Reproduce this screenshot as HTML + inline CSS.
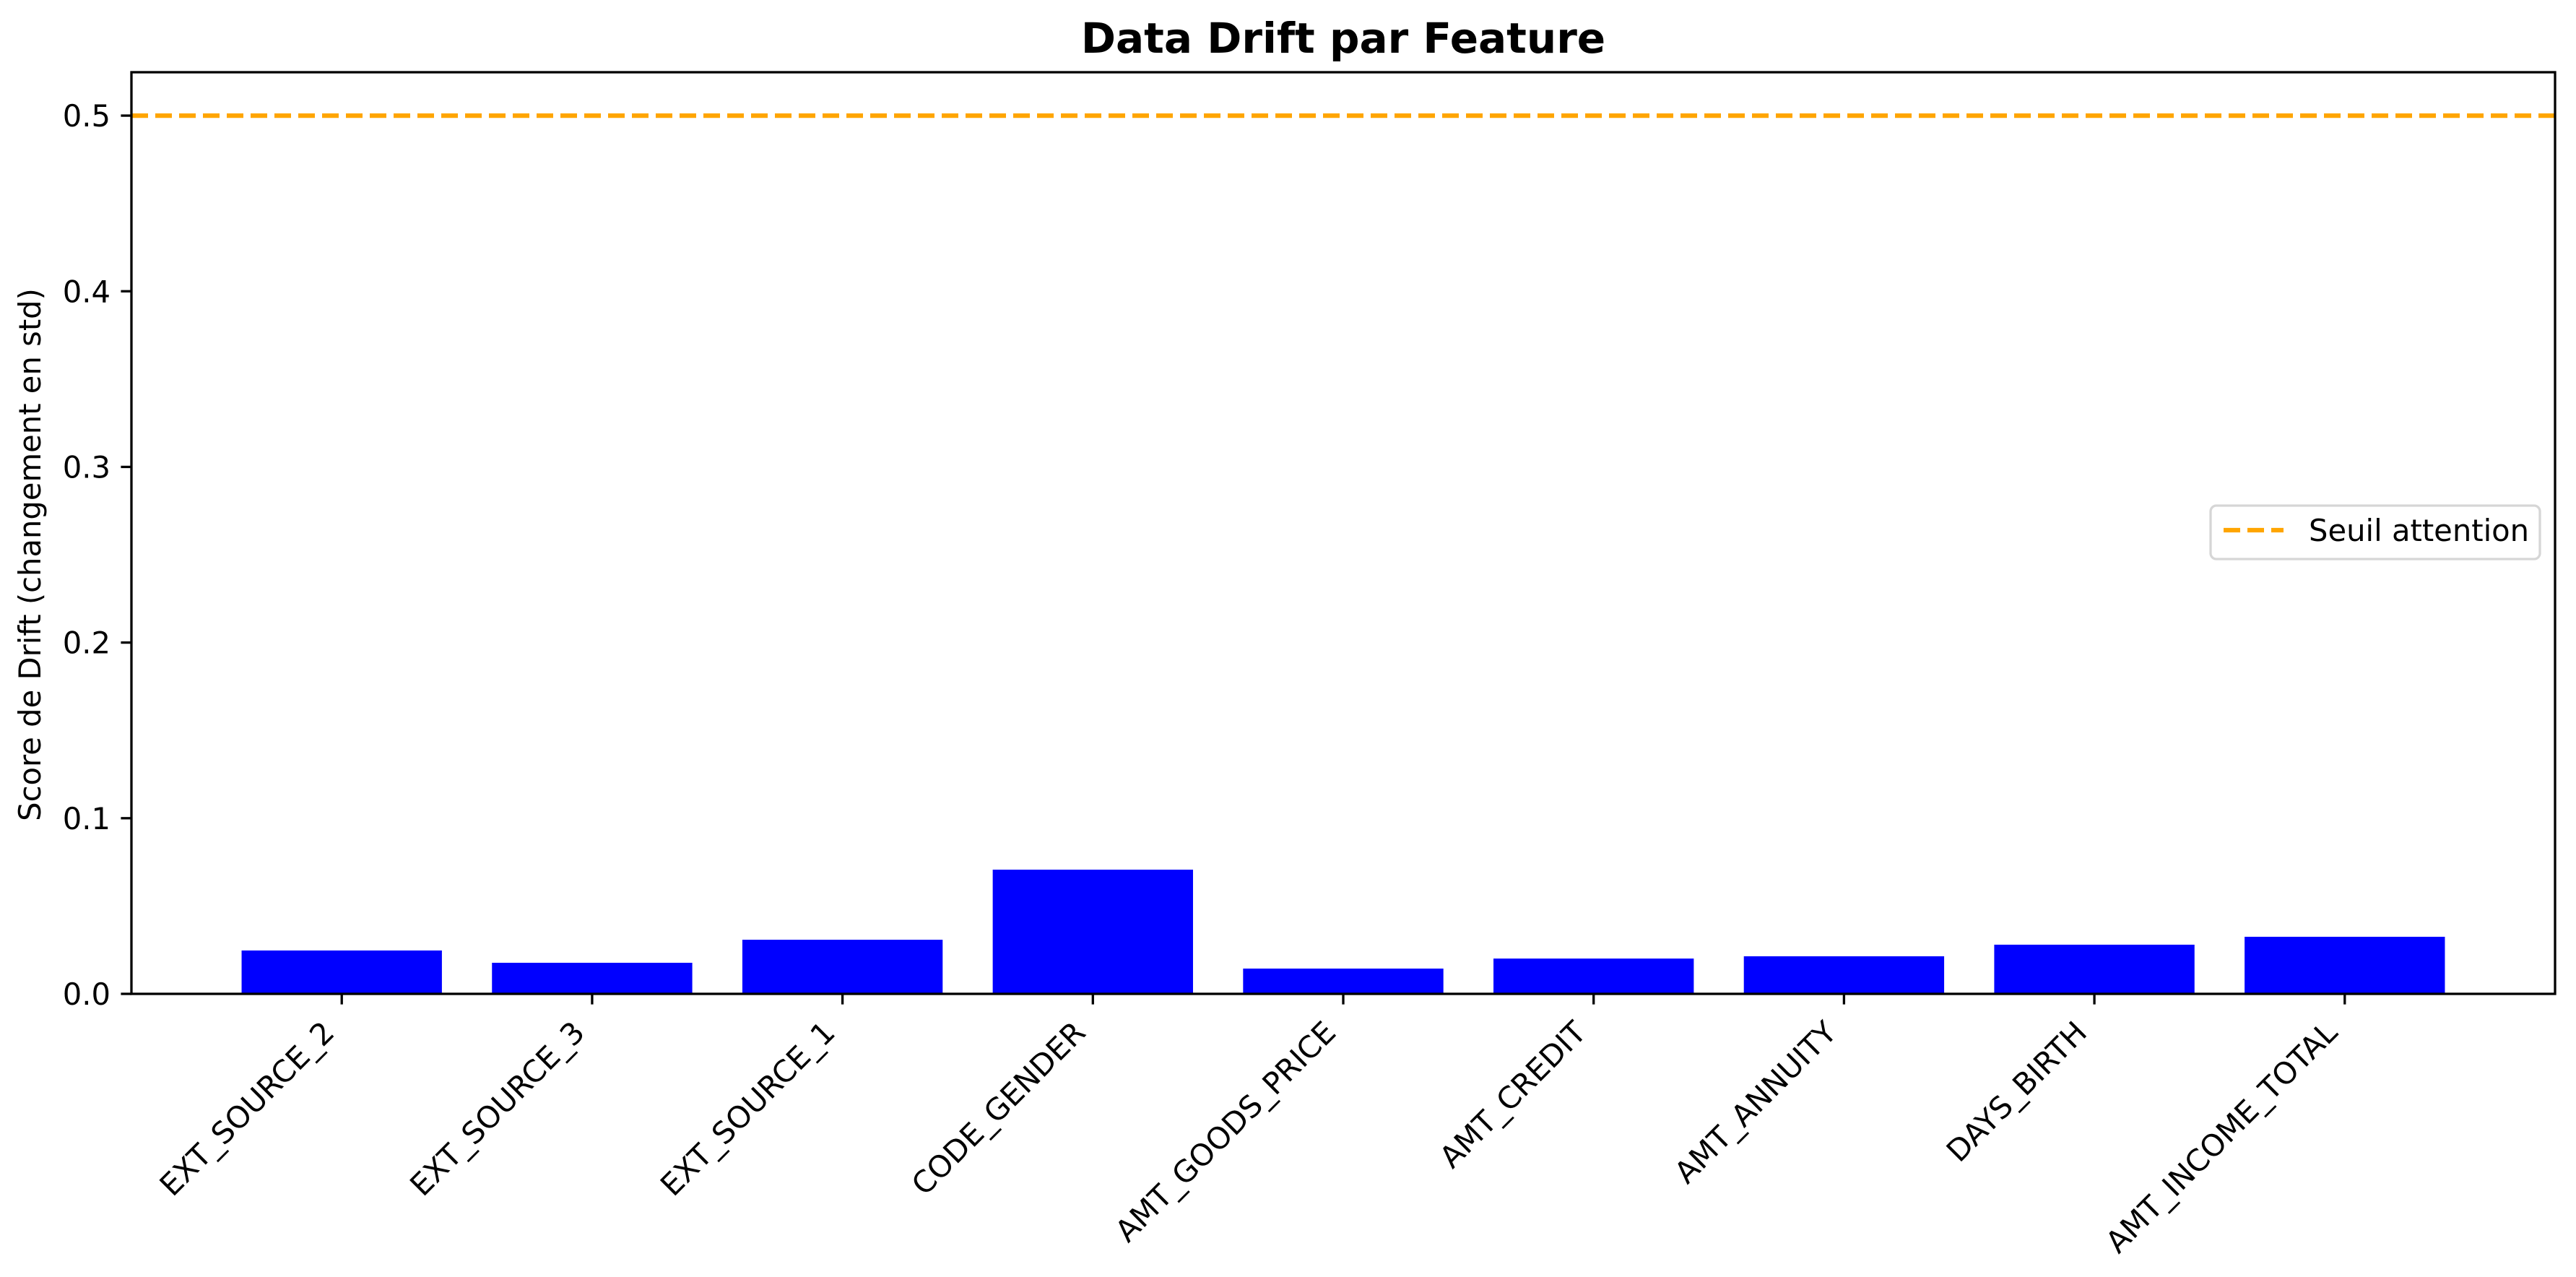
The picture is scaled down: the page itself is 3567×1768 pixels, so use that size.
<!DOCTYPE html>
<html><head><meta charset="utf-8"><style>html,body{margin:0;padding:0;background:#fff}svg{display:block;font-family:"DejaVu Sans","Liberation Sans",sans-serif}</style></head>
<body>
<svg id="chart" width="3567" height="1768" viewBox="0 0 3567 1768" xmlns="http://www.w3.org/2000/svg">
<rect x="0" y="0" width="3567" height="1768" fill="#fff"/>
<text x="1860" y="73" text-anchor="middle" font-size="58" font-weight="bold">Data Drift par Feature</text>
<text transform="translate(56,768) rotate(-90)" text-anchor="middle" font-size="41.7">Score de Drift (changement en std)</text>
<g id="bars"></g>
<g id="yticks"></g>
<g id="xticks"></g>
<line id="thr" stroke="#FFA500" stroke-width="6.25" stroke-dasharray="23,10"/>
<rect x="182" y="100" width="3356" height="1276" fill="none" stroke="#000" stroke-width="3.3"/>
<g>
<rect x="3061" y="700" width="456" height="74" rx="8" fill="#fff" fill-opacity="0.8" stroke="#d6d6d6" stroke-width="3.3"/>
<line x1="3079" y1="734" x2="3162" y2="734" stroke="#FFA500" stroke-width="6.25" stroke-dasharray="23,10"/>
<text x="3197" y="749" font-size="41.7">Seuil attention</text>
</g>
</svg>
<script>
const categories = ["EXT_SOURCE_2","EXT_SOURCE_3","EXT_SOURCE_1","CODE_GENDER","AMT_GOODS_PRICE","AMT_CREDIT","AMT_ANNUITY","DAYS_BIRTH","AMT_INCOME_TOTAL"];
const driftValues = [0.0247,0.0177,0.0308,0.0707,0.0144,0.0201,0.0214,0.028,0.0325];
const yTicks = [0.0,0.1,0.2,0.3,0.4,0.5];
const yTickLabels = ["0.0","0.1","0.2","0.3","0.4","0.5"];
const threshold = 0.5;

const NS="http://www.w3.org/2000/svg";
const L=182,R=3538,T=100,B=1376;
const xMin=-0.84,xMax=categories.length-1+0.84;
const yMin=0,yMax=0.5247;
function xs(v){return L+(v-xMin)/(xMax-xMin)*(R-L);}
function ys(v){return B-(v-yMin)/(yMax-yMin)*(B-T);}
function mk(tag,attrs,parent){const e=document.createElementNS(NS,tag);for(const k in attrs)e.setAttribute(k,attrs[k]);parent.appendChild(e);return e;}
const gb=document.getElementById('bars'),gy=document.getElementById('yticks'),gx=document.getElementById('xticks');
const bw=xs(0.8)-xs(0);
driftValues.forEach((v,i)=>{
  const r=mk('rect',{x:xs(i)-bw/2,y:ys(v),width:bw,height:ys(0)-ys(v),fill:'#0000ff'},gb);
  
  
});
yTicks.forEach((v,i)=>{
  const y=ys(v);
  const t=mk('line',{x1:L-14.6,x2:L,y1:y,y2:y,stroke:'#000','stroke-width':3.3},gy);
  
  
  const tx=mk('text',{x:L-29,y:y+15,'text-anchor':'end','font-size':41.7},gy);
  tx.textContent=yTickLabels[i];
  
  
});
categories.forEach((c,i)=>{
  const x=xs(i);
  const t=mk('line',{x1:x,x2:x,y1:B,y2:B+14.6,stroke:'#000','stroke-width':3.3},gx);
  
  
  const tx=mk('text',{transform:`translate(${x-8},${B+56}) rotate(-45)`,'text-anchor':'end','font-size':41.7},gx);
  tx.textContent=c;
  
  
});
const th=document.getElementById('thr');
th.setAttribute('x1',L);th.setAttribute('x2',R);
th.setAttribute('y1',ys(threshold));th.setAttribute('y2',ys(threshold));
</script>
</body></html>
